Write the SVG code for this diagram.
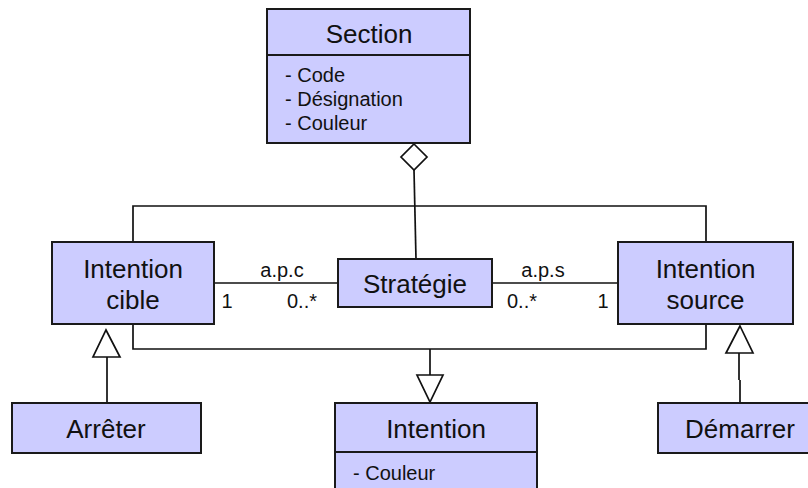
<svg xmlns="http://www.w3.org/2000/svg" width="808" height="488" viewBox="0 0 808 488">
<style>
.box{fill:#ccccff;stroke:#1a1a1a;stroke-width:2}
.div{stroke:#1a1a1a;stroke-width:2;fill:none}
.t{font-family:"Liberation Sans",Arial,sans-serif;font-size:26px;fill:#111;text-anchor:middle}
.a{font-family:"Liberation Sans",Arial,sans-serif;font-size:20px;fill:#111}
.l{font-family:"Liberation Sans",Arial,sans-serif;font-size:20px;fill:#111}
.c{stroke:#111;stroke-width:1.7;fill:none}
.h{fill:#fff;stroke:#111;stroke-width:1.7}
</style>
<rect width="808" height="488" fill="#fff"/>
<g id="connectors">
  <path class="c" d="M414,170 L416,259"/>
  <path class="c" d="M133,242 V206 H706 V242"/>
  <path class="c" d="M133,324 V349 H706 V324"/>
  <path class="c" d="M214,283 H338"/>
  <path class="c" d="M492,283 H618"/>
  <path class="c" d="M430,349 V375"/>
  <path class="c" d="M107,403 V357"/>
  <path class="c" d="M740,403 V380 M739,380 V353"/>
  <polygon class="h" points="414,144 427,157 414,170 401,157"/>
  <polygon class="h" points="417,375 443,375 430,402"/>
  <polygon class="h" points="106,330 120,357 93,357"/>
  <polygon class="h" points="740,326 753,353 726,353"/>
  <text class="l" x="282" y="277" text-anchor="middle">a.p.c</text>
  <text class="l" x="227" y="308" text-anchor="middle">1</text>
  <text class="l" x="287" y="308">0..*</text>
  <text class="l" x="543" y="277" text-anchor="middle">a.p.s</text>
  <text class="l" x="507" y="308">0..*</text>
  <text class="l" x="603" y="308" text-anchor="middle">1</text>
</g>
<g id="section">
  <rect class="box" x="267" y="9" width="203" height="134"/>
  <line class="div" x1="267" y1="55" x2="470" y2="55"/>
  <text class="t" x="369" y="43">Section</text>
  <text class="a" x="285" y="82">- Code</text>
  <text class="a" x="285" y="106">- Désignation</text>
  <text class="a" x="285" y="130">- Couleur</text>
</g>
<g id="intention-cible">
  <rect class="box" x="52" y="242" width="162" height="82"/>
  <text class="t" x="133" y="278">Intention</text>
  <text class="t" x="133" y="309">cible</text>
</g>
<g id="strategie">
  <rect class="box" x="338" y="259" width="154" height="48"/>
  <text class="t" x="415" y="293">Stratégie</text>
</g>
<g id="intention-source">
  <rect class="box" x="618" y="242" width="175" height="82"/>
  <text class="t" x="705.5" y="278">Intention</text>
  <text class="t" x="705.5" y="309">source</text>
</g>
<g id="arreter">
  <rect class="box" x="12" y="403" width="189" height="50"/>
  <text class="t" x="106" y="438">Arrêter</text>
</g>
<g id="intention">
  <rect class="box" x="335" y="403" width="202" height="100"/>
  <line class="div" x1="335" y1="452" x2="537" y2="452"/>
  <text class="t" x="436" y="438">Intention</text>
  <text class="a" x="353" y="480">- Couleur</text>
</g>
<g id="demarrer">
  <rect class="box" x="658" y="403" width="164" height="50"/>
  <text class="t" x="740" y="438">Démarrer</text>
</g>
</svg>
